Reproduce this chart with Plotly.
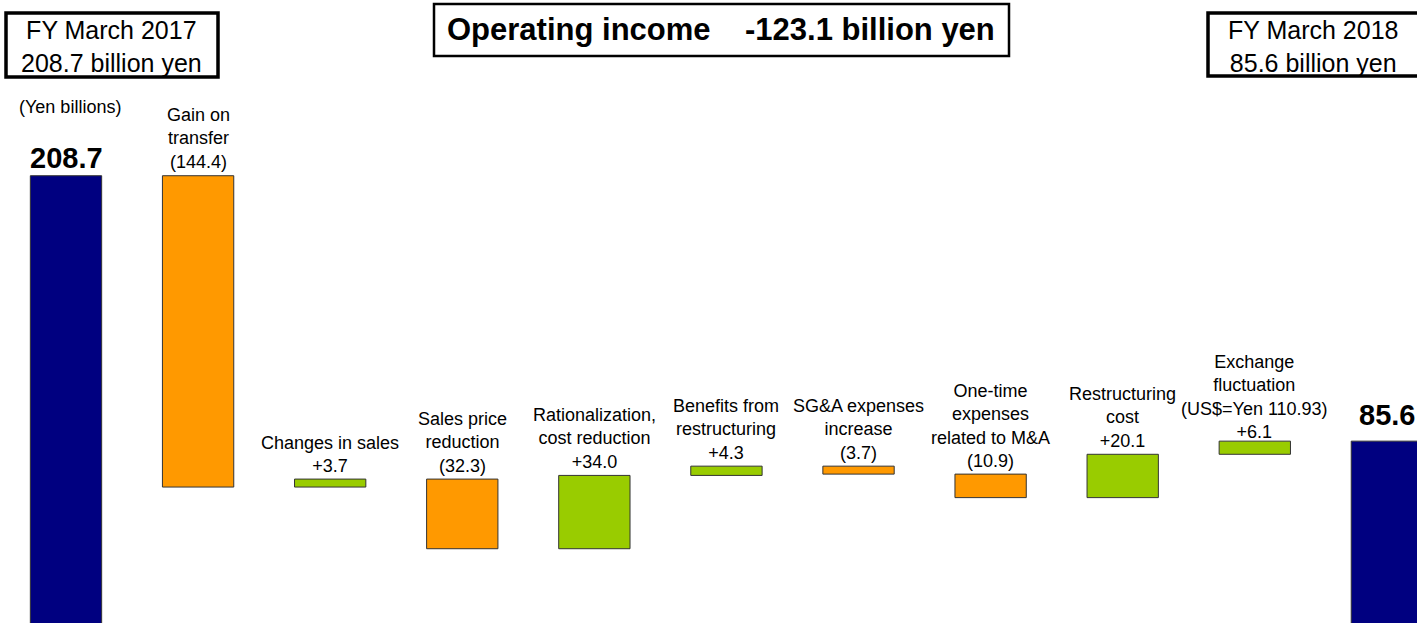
import plotly.graph_objects as go

# ---- data ----
categories = [
    "FY March 2017", "Gain on transfer", "Changes in sales", "Sales price reduction",
    "Rationalization, cost reduction", "Benefits from restructuring",
    "SG&A expenses increase", "One-time expenses related to M&A",
    "Restructuring cost", "Exchange fluctuation (US$=Yen 110.93)", "FY March 2018",
]
values = [208.7, -144.4, 3.7, -32.3, 34.0, 4.3, -3.7, -10.9, 20.1, 6.1, 85.6]
measures = ["absolute"] + ["relative"] * 9 + ["total"]
label_texts = [
    "208.7",
    "Gain on<br>transfer<br>(144.4)",
    "Changes in sales<br>+3.7",
    "Sales price<br>reduction<br>(32.3)",
    "Rationalization,<br>cost reduction<br>+34.0",
    "Benefits from<br>restructuring<br>+4.3",
    "SG&amp;A expenses<br>increase<br>(3.7)",
    "One-time<br>expenses<br>related to M&amp;A<br>(10.9)",
    "Restructuring<br>cost<br>+20.1",
    "Exchange<br>fluctuation<br>(US$=Yen 110.93)<br>+6.1",
    "85.6",
]
bold_labels = [True] + [False] * 9 + [True]
start_title = "FY March 2017<br>208.7 billion yen"
end_title = "FY March 2018<br>85.6 billion yen"
main_title = "Operating income&nbsp;&nbsp;&nbsp;&nbsp;-123.1 billion yen"
unit_label = "(Yen billions)"

# label pixel offsets (styling only)
label_shift = [0, 2, 1, 1, 1, 1, 1, 1, 1, -3, 8]

FONT = "Liberation Sans, Arial, sans-serif"
W, H = 1417, 623

x_pos = list(range(len(categories)))

fig = go.Figure(go.Waterfall(
    x=x_pos,
    y=values,
    measure=measures,
    width=0.54,
    increasing=dict(marker=dict(color="#99CC00", line=dict(color="#333333", width=1))),
    decreasing=dict(marker=dict(color="#FF9900", line=dict(color="#333333", width=1))),
    totals=dict(marker=dict(color="#000080", line=dict(color="#333333", width=1))),
    connector=dict(visible=False),
    hoverinfo="skip",
    textinfo="none",
))

# compute bar tops from data for label placement
tops = []
running = 0.0
for v, m in zip(values, measures):
    if m == "absolute":
        start, end = 0.0, v
        running = v
    elif m == "total":
        start, end = 0.0, running
    else:
        start, end = running, running + v
        running = end
    tops.append(max(start, end))

annotations = []
for i, (txt, top, b) in enumerate(zip(label_texts, tops, bold_labels)):
    annotations.append(dict(
        x=x_pos[i], y=top, xref="x", yref="y",
        text=f"<b>{txt}</b>" if b else txt,
        showarrow=False, xanchor="center", yanchor="bottom",
        yshift=label_shift[i],
        font=dict(family=FONT, size=29 if b else 18, color="#000000"),
    ))

def px(x):
    return x / W

def py(y):
    return 1 - y / H

shapes = [
    dict(type="rect", xref="paper", yref="paper", x0=px(6), x1=px(218), y0=py(77), y1=py(13),
         line=dict(color="#000000", width=3.5), fillcolor="white", layer="above"),
    dict(type="rect", xref="paper", yref="paper", x0=px(1208), x1=px(1419), y0=py(76), y1=py(13),
         line=dict(color="#000000", width=3.5), fillcolor="white", layer="above"),
    dict(type="rect", xref="paper", yref="paper", x0=px(434), x1=px(1009), y0=py(56), y1=py(4),
         line=dict(color="#000000", width=2.5), fillcolor="white", layer="above"),
]

annotations += [
    dict(x=px(111), y=py(46), xref="paper", yref="paper", text=start_title, showarrow=False,
         xanchor="center", yanchor="middle", font=dict(family=FONT, size=25, color="#000000")),
    dict(x=px(1313), y=py(46), xref="paper", yref="paper", text=end_title, showarrow=False,
         xanchor="center", yanchor="middle", font=dict(family=FONT, size=25, color="#000000")),
    dict(x=px(721), y=py(30), xref="paper", yref="paper", text=f"<b>{main_title}</b>", showarrow=False,
         xanchor="center", yanchor="middle", font=dict(family=FONT, size=31, color="#000000")),
    dict(x=px(70), y=py(107), xref="paper", yref="paper", text=unit_label, showarrow=False,
         xanchor="center", yanchor="middle", font=dict(family=FONT, size=18, color="#000000")),
]

fig.update_layout(
    width=W, height=H,
    margin=dict(l=0, r=0, t=0, b=0),
    paper_bgcolor="white", plot_bgcolor="white",
    showlegend=False,
    xaxis=dict(range=[-0.4997, 10.228], visible=False, fixedrange=True),
    yaxis=dict(range=[1.25, 290.2], visible=False, fixedrange=True),
    shapes=shapes,
    annotations=annotations,
)

fig.write_html(
    "out.html",
    config={"displayModeBar": False},
    post_script="document.body.style.margin='0';document.body.style.overflow='hidden';",
)
